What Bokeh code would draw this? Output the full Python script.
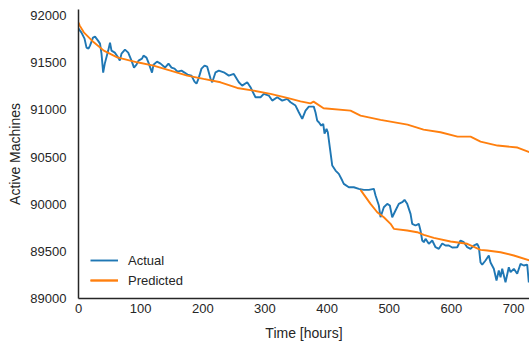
from bokeh.plotting import figure
from bokeh.models import Range1d, FixedTicker, BasicTickFormatter, Legend, LegendItem
from bokeh.embed import file_html
from bokeh.resources import INLINE

# Actual (hours, machines)
actual_t = [0, 4.8, 9.7, 12.9, 16.1, 18.5, 23.3, 26.6, 31.4, 34.6, 37, 39.7, 42.3, 47.8, 50.7, 53.1,
            58.4, 63.9, 66.5, 69.2, 74.8, 80, 85.3, 89.3, 93.3, 96.6, 102.2, 104.6, 109.4, 112.6,
            118.3, 120.7, 126.3, 132, 139.2, 144.8, 149.7, 154.5, 159.3, 165.7, 170.6, 175.4, 181.8,
            186.6, 189.9, 193.1, 197.9, 202.8, 207.1, 212.4, 215.2, 220.5, 225.8, 233.8, 241.9, 249.9,
            258, 263.4, 271.5, 276.8, 284.8, 292.9, 298.2, 306.2, 311.7, 319.8, 327.8, 335.8, 341.2,
            349.2, 354.5, 360, 365.3, 370.6, 378.6, 381.4, 384.1, 386.7, 390.6, 393.8, 395.9, 399.1,
            401.2, 404.4, 408.3, 413.6, 418.9, 424.4, 426.9, 435, 443, 451.1, 459.1, 467.2, 475.2,
            478, 483.3, 486, 491.3, 496.8, 501, 504.8, 510.1, 515.4, 520.9, 524.6, 528.9, 534.3, 537,
            542.3, 547.6, 550.3, 553.1, 555.7, 558.4, 563.7, 569.2, 574.5, 579.8, 585.3, 590.6, 595.9,
            601.4, 609.4, 614.7, 620, 625.5, 630.8, 636.1, 641.6, 644.2, 646.9, 649.6, 654.9, 660.2,
            663, 668.3, 672.6, 676.3, 679.1, 681.8, 687.1, 692.4, 695.2, 700.5, 705.9, 711.3, 716.6,
            722, 724.6]
actual_v = [91862, 91820, 91756, 91661, 91650, 91682, 91767, 91777, 91735, 91703, 91597, 91396, 91491,
            91629, 91714, 91629, 91608, 91555, 91523, 91597, 91639, 91608, 91523, 91449, 91480, 91523,
            91544, 91576, 91555, 91502, 91396, 91480, 91512, 91491, 91449, 91491, 91449, 91438, 91406,
            91417, 91396, 91374, 91364, 91300, 91279, 91332, 91438, 91470, 91459, 91332, 91293, 91399,
            91417, 91399, 91364, 91382, 91293, 91258, 91293, 91240, 91134, 91134, 91170, 91152, 91099,
            91134, 91099, 91117, 91081, 91046, 90975, 90905, 90993, 91035, 91035, 90972, 90887, 90869,
            90834, 90852, 90749, 90799, 90763, 90604, 90410, 90357, 90322, 90251, 90216, 90180, 90180,
            90163, 90152, 90152, 90163, 90092, 89986, 89862, 89968, 90004, 89986, 89862, 89933, 90004,
            90021, 90046, 90004, 89898, 89792, 89774, 89792, 89721, 89615, 89597, 89633, 89580, 89615,
            89544, 89527, 89583, 89562, 89562, 89541, 89544, 89615, 89597, 89544, 89527, 89562, 89580,
            89544, 89382, 89360, 89403, 89456, 89382, 89315, 89191, 89297, 89226, 89315, 89173, 89332,
            89279, 89315, 89262, 89368, 89350, 89360, 89170]

# Predicted, long horizon run
pred_long_t = [0, 2, 8.5, 24.6, 40.7, 62.3, 94.5, 120.7, 148, 174.9, 201.2, 228.5, 255.4, 281.6, 309,
               335.8, 357.2, 373.3, 378.2, 394.3, 437.7, 453.8, 486, 529.4, 555.2, 582.5, 609.9, 630.8,
               646.9, 674.2, 706.4, 725.7]
pred_long_v = [91926, 91894, 91823, 91717, 91629, 91558, 91505, 91470, 91417, 91364, 91329, 91293, 91233,
               91205, 91170, 91127, 91091, 91070, 91088, 91017, 90993, 90940, 90894, 90844, 90791, 90763,
               90717, 90717, 90664, 90622, 90601, 90551]

# Predicted, re-started run
pred_short_t = [453.8, 469.9, 480.7, 491.3, 502.1, 507.4, 529, 545, 555.7, 571.8, 598.6, 625.5, 646.9,
                657.7, 679.1, 700.5, 725.7]
pred_short_v = [90152, 90004, 89915, 89862, 89792, 89739, 89721, 89703, 89675, 89643, 89604, 89580, 89516,
                89509, 89491, 89456, 89403]

x_ticks = [0, 100, 200, 300, 400, 500, 600, 700]
y_ticks = [89000, 89500, 90000, 90500, 91000, 91500, 92000]

FONT = "Liberation Sans"
DARK = "#262626"

p = figure(width=529, height=344, output_backend="svg", toolbar_location=None,
           x_range=Range1d(0, 725.7), y_range=Range1d(89000, 92065),
           min_border_left=78, min_border_right=0, min_border_top=9, min_border_bottom=46)
p.outline_line_color = None
p.xgrid.visible = False
p.ygrid.visible = False
p.background_fill_color = "white"
p.border_fill_color = "white"

r1 = p.line(actual_t, actual_v, line_color="#1f77b4", line_width=1.9)
r2 = p.line(pred_long_t, pred_long_v, line_color="#ff7f0e", line_width=1.9)
r3 = p.line(pred_short_t, pred_short_v, line_color="#ff7f0e", line_width=1.9)

for ax in (p.xaxis[0], p.yaxis[0]):
    ax.axis_line_color = DARK
    ax.axis_line_width = 1.5
    ax.major_tick_out = 0
    ax.major_tick_in = 0
    ax.minor_tick_out = 0
    ax.minor_tick_in = 0
    ax.major_label_text_font = FONT
    ax.major_label_text_font_size = "13px"
    ax.major_label_text_color = DARK
    ax.axis_label_text_font = FONT
    ax.axis_label_text_font_size = "14px"
    ax.axis_label_text_font_style = "normal"
    ax.axis_label_text_color = DARK

p.xaxis.ticker = FixedTicker(ticks=x_ticks)
p.yaxis.ticker = FixedTicker(ticks=y_ticks)
p.yaxis.formatter = BasicTickFormatter(use_scientific=False)
p.xaxis.axis_label = "Time [hours]"
p.yaxis.axis_label = "Active Machines"
p.xaxis.major_label_standoff = 5
p.xaxis.axis_label_standoff = 9
p.yaxis.major_label_standoff = 12
p.yaxis.axis_label_standoff = 4

legend = Legend(items=[LegendItem(label="Actual", renderers=[r1]),
                       LegendItem(label="Predicted", renderers=[r2, r3])],
                location=(12, 8))
legend.margin = 0
legend.padding = 8
legend.spacing = 0
legend.glyph_width = 28
legend.glyph_height = 20
legend.label_height = 20
legend.label_standoff = 10
legend.label_text_font = FONT
legend.label_text_font_size = "13px"
legend.label_text_color = DARK
legend.border_line_color = None
legend.background_fill_alpha = 0
p.add_layout(legend, "center")

open("out.html", "w").write(file_html(p, INLINE))
